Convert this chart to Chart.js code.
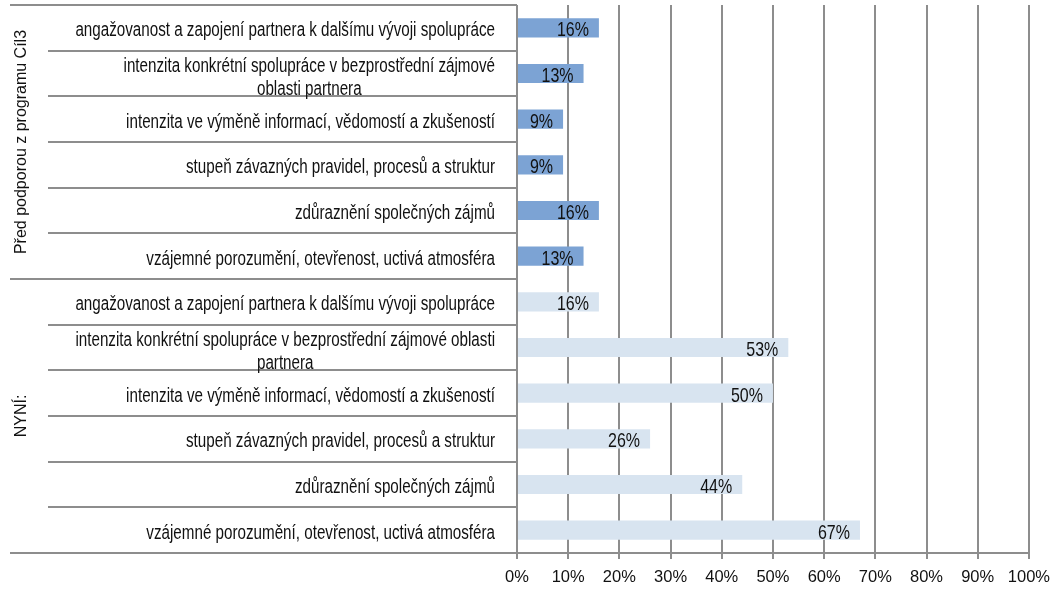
<!DOCTYPE html>
<html>
<head>
<meta charset="utf-8">
<script src="https://cdn.jsdelivr.net/npm/chart.js@4"></script>
<style>
  html, body { margin: 0; padding: 0; background: #fff; }
  #wrap { width: 1059px; height: 589px; }
</style>
</head>
<body>
<div id="wrap"><canvas id="chart" width="1059" height="589"></canvas></div>
<script>
// skupiny (svislé popisky vlevo)
const groups = ["Před podporou z programu Cíl3", "NYNÍ:"];

// kategorie - pole řádků (zalomený text)
const categoriesBefore = [
  ["angažovanost a zapojení partnera k dalšímu vývoji spolupráce"],
  ["intenzita konkrétní spolupráce v bezprostřední zájmové", "oblasti partnera"],
  ["intenzita ve výměně informací, vědomostí a zkušeností"],
  ["stupeň závazných pravidel, procesů a struktur"],
  ["zdůraznění společných zájmů"],
  ["vzájemné porozumění, otevřenost, uctivá atmosféra"]
];
const categoriesNow = [
  ["angažovanost a zapojení partnera k dalšímu vývoji spolupráce"],
  ["intenzita konkrétní spolupráce v bezprostřední zájmové oblasti", "partnera"],
  ["intenzita ve výměně informací, vědomostí a zkušeností"],
  ["stupeň závazných pravidel, procesů a struktur"],
  ["zdůraznění společných zájmů"],
  ["vzájemné porozumění, otevřenost, uctivá atmosféra"]
];

// hodnoty v %
const valuesBefore = [16, 13, 9, 9, 16, 13];
const valuesNow = [16, 53, 50, 26, 44, 67];

const tickLabels = ["0%", "10%", "20%", "30%", "40%", "50%", "60%", "70%", "80%", "90%", "100%"];

const lineColor = "#8d8d8d";
const textColor = "#111";
const font = "'Liberation Sans', Arial, sans-serif";

const labels = categoriesBefore.concat(categoriesNow);
const groupSize = categoriesBefore.length;
const empty = categoriesBefore.map(() => null);

// popisky kategorií, oddělovače a hodnoty kreslíme sami (Excel styl)
const sidePlugin = {
  id: "side",
  afterDraw(chart) {
    const ctx = chart.ctx;
    const y = chart.scales.y;
    const area = chart.chartArea;
    const step = y.getPixelForValue(1) - y.getPixelForValue(0);

    ctx.save();
    ctx.strokeStyle = lineColor;
    ctx.lineWidth = 2;
    for (let i = 0; i <= labels.length; i++) {
      const py = Math.round(y.getPixelForValue(i) - step / 2);
      const edge = i % groupSize === 0;
      ctx.beginPath();
      ctx.moveTo(edge ? 10 : 48, py);
      ctx.lineTo(area.left, py);
      ctx.stroke();
    }

    ctx.fillStyle = textColor;
    ctx.font = "15.2px " + font;
    ctx.textAlign = "center";
    ctx.textBaseline = "alphabetic";
    labels.forEach((lines, i) => {
      const cy = y.getPixelForValue(i);
      const w = Math.max(...lines.map(l => ctx.measureText(l).width));
      const cx = 495 - w / 2;
      lines.forEach((line, k) => {
        const by = lines.length === 1 ? cy + 8.5 : cy - 2 + k * 23;
        ctx.save();
        ctx.translate(cx, by);
        ctx.scale(1, 1.27);
        ctx.fillText(line, 0, 0);
        ctx.restore();
      });
    });

    // svislé názvy skupin
    ctx.font = "16px " + font;
    groups.forEach((g, gi) => {
      const top = y.getPixelForValue(gi * groupSize) - step / 2;
      const bottom = y.getPixelForValue((gi + 1) * groupSize) - step / 2;
      ctx.save();
      ctx.translate(26, (top + bottom) / 2);
      ctx.rotate(-Math.PI / 2);
      ctx.fillText(g, 0, 0);
      ctx.restore();
    });

    // hodnoty u konce sloupců
    ctx.font = "16px " + font;
    ctx.textAlign = "right";
    chart.data.datasets.forEach((ds, di) => {
      const meta = chart.getDatasetMeta(di);
      meta.data.forEach((bar, i) => {
        const v = ds.data[i];
        if (v == null) return;
        ctx.save();
        ctx.translate(bar.x - 10, bar.y + 8.5);
        ctx.scale(1, 1.3);
        ctx.fillText(v + "%", 0, 0);
        ctx.restore();
      });
    });
    ctx.restore();
  }
};

new Chart(document.getElementById("chart"), {
  type: "bar",
  data: {
    labels: labels,
    datasets: [
      {
        label: groups[0],
        data: valuesBefore.concat(empty),
        backgroundColor: "#7ca3d4"
      },
      {
        label: groups[1],
        data: empty.concat(valuesNow),
        backgroundColor: "#d8e4f0"
      }
    ]
  },
  options: {
    indexAxis: "y",
    responsive: false,
    animation: false,
    grouped: false,
    categoryPercentage: 1,
    barPercentage: 0.42,
    layout: { padding: { left: 0, top: 5, right: 29, bottom: 0 } },
    plugins: {
      legend: { display: false },
      tooltip: { enabled: false }
    },
    scales: {
      x: {
        min: 0,
        max: 100,
        ticks: {
          stepSize: 10,
          color: textColor,
          font: { family: font, size: 16.5 },
          padding: 9,
          callback: (v, i) => tickLabels[i]
        },
        grid: { color: lineColor, lineWidth: 2, tickLength: 6 },
        border: { color: lineColor, width: 2 },
        afterFit: s => { s.height = 36; }
      },
      y: {
        offset: true,
        ticks: { display: false },
        grid: { display: false },
        border: { display: false },
        afterFit: s => { s.width = 517; }
      }
    }
  },
  plugins: [sidePlugin]
});
</script>
</body>
</html>
